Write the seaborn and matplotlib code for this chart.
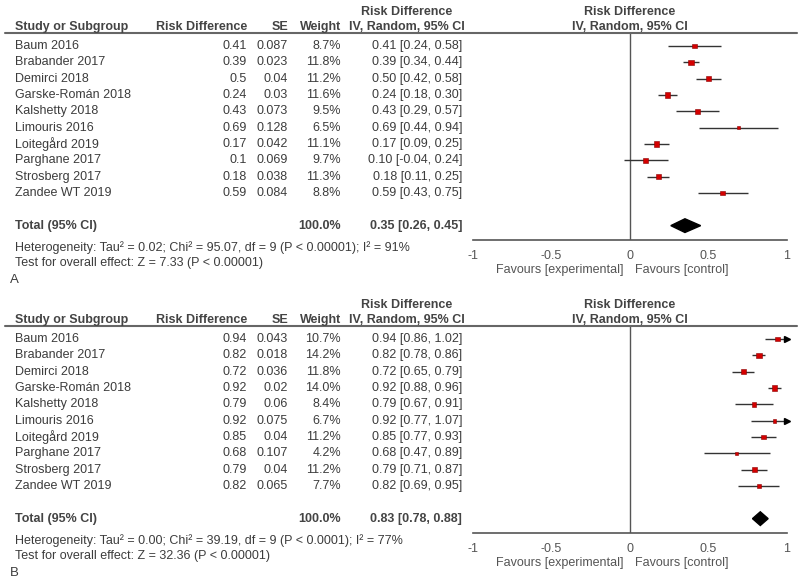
import numpy as np
import pandas as pd
import matplotlib.pyplot as plt
import matplotlib.transforms as mtransforms
import seaborn as sns

studies = ["Baum 2016", "Brabander 2017", "Demirci 2018", "Garske-Román 2018",
           "Kalshetty 2018", "Limouris 2016", "Loitegård 2019", "Parghane 2017",
           "Strosberg 2017", "Zandee WT 2019"]

# panel A
rd_a = [0.41, 0.39, 0.5, 0.24, 0.43, 0.69, 0.17, 0.1, 0.18, 0.59]
se_a = [0.087, 0.023, 0.04, 0.03, 0.073, 0.128, 0.042, 0.069, 0.038, 0.084]
w_a = [8.7, 11.8, 11.2, 11.6, 9.5, 6.5, 11.1, 9.7, 11.3, 8.8]
lo_a = [0.24, 0.34, 0.42, 0.18, 0.29, 0.44, 0.09, -0.04, 0.11, 0.43]
hi_a = [0.58, 0.44, 0.58, 0.30, 0.57, 0.94, 0.25, 0.24, 0.25, 0.75]
total_a = [0.35, 0.26, 0.45]
het_a = "Heterogeneity: Tau² = 0.02; Chi² = 95.07, df = 9 (P < 0.00001); I² = 91%"
test_a = "Test for overall effect: Z = 7.33 (P < 0.00001)"

# panel B
rd_b = [0.94, 0.82, 0.72, 0.92, 0.79, 0.92, 0.85, 0.68, 0.79, 0.82]
se_b = [0.043, 0.018, 0.036, 0.02, 0.06, 0.075, 0.04, 0.107, 0.04, 0.065]
w_b = [10.7, 14.2, 11.8, 14.0, 8.4, 6.7, 11.2, 4.2, 11.2, 7.7]
lo_b = [0.86, 0.78, 0.65, 0.88, 0.67, 0.77, 0.77, 0.47, 0.71, 0.69]
hi_b = [1.02, 0.86, 0.79, 0.96, 0.91, 1.07, 0.93, 0.89, 0.87, 0.95]
total_b = [0.83, 0.78, 0.88]
het_b = "Heterogeneity: Tau² = 0.00; Chi² = 39.19, df = 9 (P < 0.0001); I² = 77%"
test_b = "Test for overall effect: Z = 32.36 (P < 0.00001)"

ticks = [-1, -0.5, 0, 0.5, 1]
tick_labels = ["-1", "-0.5", "0", "0.5", "1"]

sns.set_style("white")
plt.rcParams['font.family'] = ['Liberation Sans', 'DejaVu Sans']

W, H = 800, 579
fig = plt.figure(figsize=(8, 5.79), dpi=100)

TXT = "#3c3c3c"
FS = 9


def px(x):
    return x / W


def draw_panel(top_px, label, rd, se, w, lo, hi, total, het, test):
    bottom_px = top_px + 207
    ax = fig.add_axes([px(473), 1 - bottom_px / H, px(314), 207 / H])
    ax.set_xlim(-1, 1)
    ax.set_ylim(11.88, -0.8)

    df = pd.DataFrame({"study": studies, "rd": rd, "se": se, "w": w,
                       "lo": lo, "hi": hi, "row": np.arange(len(studies))})
    df["hi_clip"] = df["hi"].clip(upper=1)

    ax.axvline(0, color="#555555", lw=1)
    ax.hlines(df["row"], df["lo"], df["hi_clip"], color="#333333", lw=1)
    over = df[df["hi"] > 1]
    ax.plot(over["hi_clip"], over["row"], ls="none", marker=">", ms=4.5,
            color="black", clip_on=False)
    sns.scatterplot(data=df, x="rd", y="row", size="w", sizes=(5, 16),
                    marker="s", color="#d40000", edgecolor="#8a0000",
                    linewidth=0.4, legend=False, ax=ax, zorder=3)

    est, tlo, thi = total
    trow = 11
    ax.fill([tlo, est, thi, est], [trow, trow - 0.42, trow, trow + 0.42],
            color="black", zorder=3)

    ax.set_xticks(ticks)
    ax.set_xticklabels(tick_labels)
    ax.set_yticks([])
    ax.set_xlabel("")
    ax.set_ylabel("")
    for s in ["top", "right", "left"]:
        ax.spines[s].set_visible(False)
    ax.spines["bottom"].set_color("#555555")
    ax.spines["bottom"].set_linewidth(1.2)
    ax.tick_params(axis="x", direction="inout", length=8, width=1.2,
                   color="#555555", labelsize=FS, labelcolor="#555555", pad=3)

    tr = mtransforms.blended_transform_factory(fig.transFigure, ax.transData)

    def t(x, r, s, ha="left", bold=False, color=TXT, size=FS):
        ax.text(px(x), r, s, transform=tr, ha=ha, va="center", fontsize=size,
                fontweight="bold" if bold else "normal", color=color, clip_on=False)

    # header
    ax.plot([px(5), px(797)], [-0.8, -0.8], transform=tr, color="#666666",
            lw=1.5, clip_on=False)
    hc = "#444444"
    t(15, -1.15, "Study or Subgroup", bold=True, color=hc)
    t(247, -1.15, "Risk Difference", ha="right", bold=True, color=hc)
    t(288, -1.15, "SE", ha="right", bold=True, color=hc)
    t(341, -1.15, "Weight", ha="right", bold=True, color=hc)
    t(407, -2.1, "Risk Difference", ha="center", bold=True, color=hc)
    t(407, -1.15, "IV, Random, 95% CI", ha="center", bold=True, color=hc)
    t(630, -2.1, "Risk Difference", ha="center", bold=True, color=hc)
    t(630, -1.15, "IV, Random, 95% CI", ha="center", bold=True, color=hc)

    for i, row in df.iterrows():
        t(15, i, row["study"])
        t(247, i, f"{row['rd']:g}", ha="right")
        t(288, i, f"{row['se']:g}", ha="right")
        t(341, i, f"{row['w']:.1f}%", ha="right")
        t(462, i, f"{row['rd']:.2f} [{row['lo']:.2f}, {row['hi']:.2f}]", ha="right")

    t(15, trow, "Total (95% CI)", bold=True, color=hc)
    t(341, trow, "100.0%", ha="right", bold=True, color=hc)
    t(462, trow, f"{est:.2f} [{tlo:.2f}, {thi:.2f}]", ha="right", bold=True, color=hc)
    t(15, 12.37, het)
    t(15, 13.3, test)
    t(10, 14.3, label, size=9.5)

    t(623, 13.7, "Favours [experimental]", ha="right", color="#555555")
    t(635, 13.7, "Favours [control]", color="#555555")
    return ax


draw_panel(33, "A", rd_a, se_a, w_a, lo_a, hi_a, total_a, het_a, test_a)
draw_panel(326, "B", rd_b, se_b, w_b, lo_b, hi_b, total_b, het_b, test_b)

fig.savefig("out.png", dpi=100)
